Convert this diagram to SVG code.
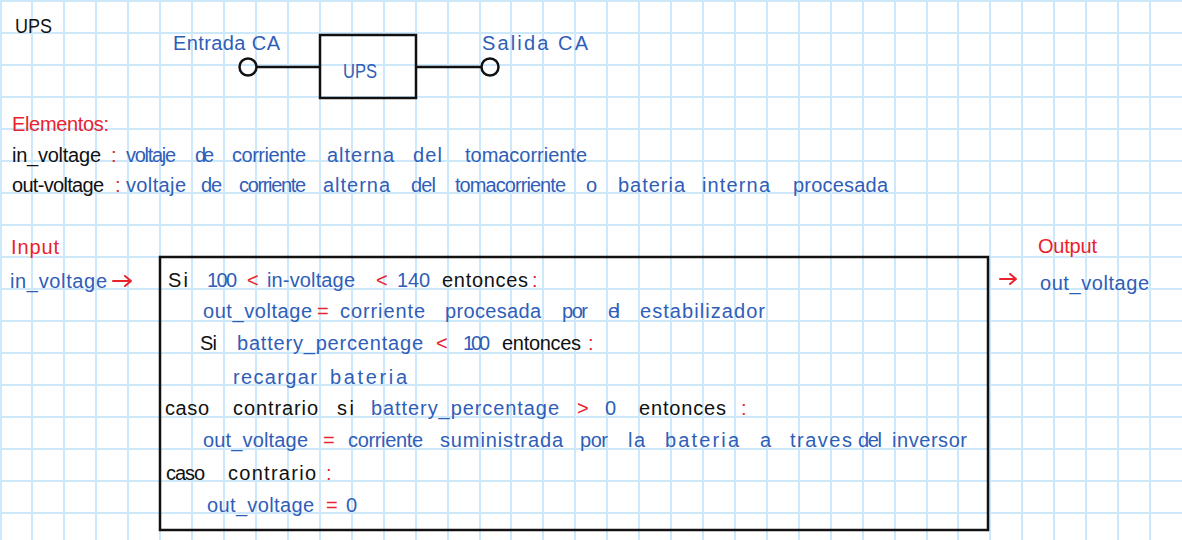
<svg xmlns="http://www.w3.org/2000/svg" width="1182" height="540" viewBox="0 0 1182 540">
<style>
text{font-family:"Liberation Sans","DejaVu Sans",sans-serif;font-size:20px}
.k{fill:#111111}
.b{fill:#2f5eb8}
.r{fill:#e8232c}
.grid{stroke:#cde8fb;stroke-width:2;fill:none}
.ln{stroke:#111111;stroke-width:2.5;fill:none}
.ar{stroke:#e8232c;stroke-width:2;fill:none;stroke-linecap:round;stroke-linejoin:round}
</style>
<rect x="0" y="0" width="1182" height="540" fill="#ffffff"/>
<path class="grid" d="M1 0V540M32 0V540M64 0V540M96 0V540M128 0V540M160 0V540M192 0V540M224 0V540M256 0V540M288 0V540M320 0V540M352 0V540M384 0V540M416 0V540M448 0V540M480 0V540M511 0V540M543 0V540M575 0V540M607 0V540M639 0V540M671 0V540M703 0V540M735 0V540M767 0V540M799 0V540M831 0V540M863 0V540M895 0V540M927 0V540M958 0V540M990 0V540M1022 0V540M1054 0V540M1086 0V540M1118 0V540M1150 0V540M0 1H1182M0 33H1182M0 65H1182M0 97H1182M0 129H1182M0 161H1182M0 193H1182M0 225H1182M0 257H1182M0 289H1182M0 321H1182M0 353H1182M0 385H1182M0 417H1182M0 449H1182M0 481H1182M0 513H1182"/>

<g id="title"><text class="k" x="15" y="33" font-size="23" textLength="37" lengthAdjust="spacingAndGlyphs">UPS</text></g>

<g id="connectors">
<line class="ln" x1="257" y1="67" x2="320" y2="67"/>
<line class="ln" x1="416" y1="67" x2="481" y2="67"/>
<path class="ar" d="M113 281H131M125 276L131 281L125 286"/>
<path class="ar" d="M1000 279H1016M1010 274L1016 279L1010 284"/>
</g>

<g id="in-terminal">
<circle class="ln" cx="248" cy="67" r="8.5" fill="#ffffff"/>
<text class="b" x="173" y="50" textLength="107" lengthAdjust="spacing">Entrada CA</text>
</g>
<g id="ups-box">
<rect class="ln" x="320" y="35" width="96" height="63" fill="#ffffff"/>
<text class="b" x="343" y="78" font-size="24" textLength="34" lengthAdjust="spacingAndGlyphs">UPS</text>
</g>
<g id="out-terminal">
<circle class="ln" cx="490" cy="67" r="8.5" fill="#ffffff"/>
<text class="b" x="482" y="50" textLength="106" lengthAdjust="spacing">Salida CA</text>
</g>

<g id="elementos">
<text class="r" x="12" y="131" textLength="97" lengthAdjust="spacing">Elementos:</text>
<text class="k" x="12" y="162" textLength="89" lengthAdjust="spacing">in_voltage</text>
<text class="r" x="111" y="162">:</text>
<text class="b" y="162"><tspan x="126" textLength="50" lengthAdjust="spacing">voltaje</tspan><tspan x="195" textLength="19" lengthAdjust="spacing">de</tspan><tspan x="232" textLength="74" lengthAdjust="spacing">corriente</tspan><tspan x="327" textLength="67" lengthAdjust="spacing">alterna</tspan><tspan x="413" textLength="29" lengthAdjust="spacing">del</tspan><tspan x="465" textLength="122" lengthAdjust="spacing">tomacorriente</tspan></text>
<text class="k" x="12" y="192" textLength="92" lengthAdjust="spacing">out-voltage</text>
<text class="r" x="115" y="192">:</text>
<text class="b" y="192"><tspan x="126" textLength="60" lengthAdjust="spacing">voltaje</tspan><tspan x="201" textLength="21" lengthAdjust="spacing">de</tspan><tspan x="239" textLength="67" lengthAdjust="spacing">corriente</tspan><tspan x="323" textLength="67" lengthAdjust="spacing">alterna</tspan><tspan x="411" textLength="25" lengthAdjust="spacing">del</tspan><tspan x="455" textLength="111" lengthAdjust="spacing">tomacorriente</tspan><tspan x="586">o</tspan><tspan x="618" textLength="67" lengthAdjust="spacing">bateria</tspan><tspan x="702" textLength="68" lengthAdjust="spacing">interna</tspan><tspan x="793" textLength="95" lengthAdjust="spacing">procesada</tspan></text>
</g>

<g id="input">
<text class="r" x="11" y="254" textLength="48" lengthAdjust="spacing">Input</text>
<text class="b" x="10" y="288" textLength="97" lengthAdjust="spacing">in_voltage</text>
</g>

<g id="output">
<text class="r" x="1038" y="253" textLength="59" lengthAdjust="spacing">Output</text>
<text class="b" x="1040" y="290" textLength="109" lengthAdjust="spacing">out_voltage</text>
</g>

<g id="logic-box">
<rect class="ln" x="160" y="257" width="828" height="273" fill="none"/>
<text y="287"><tspan class="k" x="168" textLength="20" lengthAdjust="spacing">Si</tspan><tspan class="b" x="207" textLength="30" lengthAdjust="spacing">100</tspan><tspan class="r" x="247">&lt;</tspan><tspan class="b" x="267" textLength="88" lengthAdjust="spacing">in-voltage</tspan><tspan class="r" x="376">&lt;</tspan><tspan class="b" x="397" textLength="33" lengthAdjust="spacing">140</tspan><tspan class="k" x="442" textLength="86" lengthAdjust="spacing">entonces</tspan><tspan class="r" x="532">:</tspan></text>
<text y="318"><tspan class="b" x="203" textLength="109" lengthAdjust="spacing">out_voltage</tspan><tspan class="r" x="317">=</tspan><tspan class="b" x="340" textLength="85" lengthAdjust="spacing">corriente</tspan><tspan class="b" x="445" textLength="96" lengthAdjust="spacing">procesada</tspan><tspan class="b" x="562" textLength="26" lengthAdjust="spacing">por</tspan><tspan class="b" x="608" textLength="12" lengthAdjust="spacing">el</tspan><tspan class="b" x="640" textLength="125" lengthAdjust="spacing">estabilizador</tspan></text>
<text y="350"><tspan class="k" x="200" textLength="17" lengthAdjust="spacing">Si</tspan><tspan class="b" x="237" textLength="186" lengthAdjust="spacing">battery_percentage</tspan><tspan class="r" x="436">&lt;</tspan><tspan class="b" x="463" textLength="27" lengthAdjust="spacing">100</tspan><tspan class="k" x="502" textLength="79" lengthAdjust="spacing">entonces</tspan><tspan class="r" x="588">:</tspan></text>
<text y="384"><tspan class="b" x="233" textLength="84" lengthAdjust="spacing">recargar</tspan><tspan class="b" x="330" textLength="77" lengthAdjust="spacing">bateria</tspan></text>
<text y="415"><tspan class="k" x="165" textLength="44" lengthAdjust="spacing">caso</tspan><tspan class="k" x="233" textLength="85" lengthAdjust="spacing">contrario</tspan><tspan class="k" x="337" textLength="17" lengthAdjust="spacing">si</tspan><tspan class="b" x="371" textLength="188" lengthAdjust="spacing">battery_percentage</tspan><tspan class="r" x="577">&gt;</tspan><tspan class="b" x="605">0</tspan><tspan class="k" x="639" textLength="87" lengthAdjust="spacing">entonces</tspan><tspan class="r" x="741">:</tspan></text>
<text y="447"><tspan class="b" x="203" textLength="105" lengthAdjust="spacing">out_voltage</tspan><tspan class="r" x="323">=</tspan><tspan class="b" x="348" textLength="75" lengthAdjust="spacing">corriente</tspan><tspan class="b" x="440" textLength="123" lengthAdjust="spacing">suministrada</tspan><tspan class="b" x="580" textLength="28" lengthAdjust="spacing">por</tspan><tspan class="b" x="628" textLength="17" lengthAdjust="spacing">la</tspan><tspan class="b" x="665" textLength="74" lengthAdjust="spacing">bateria</tspan><tspan class="b" x="760">a</tspan><tspan class="b" x="790" textLength="62" lengthAdjust="spacing">traves</tspan><tspan class="b" x="858" textLength="24" lengthAdjust="spacing">del</tspan><tspan class="b" x="892" textLength="75" lengthAdjust="spacing">inversor</tspan></text>
<text y="480"><tspan class="k" x="166" textLength="39" lengthAdjust="spacing">caso</tspan><tspan class="k" x="228" textLength="88" lengthAdjust="spacing">contrario</tspan><tspan class="r" x="326">:</tspan></text>
<text y="512"><tspan class="b" x="207" textLength="107" lengthAdjust="spacing">out_voltage</tspan><tspan class="r" x="326">=</tspan><tspan class="b" x="346">0</tspan></text>
</g>
</svg>
